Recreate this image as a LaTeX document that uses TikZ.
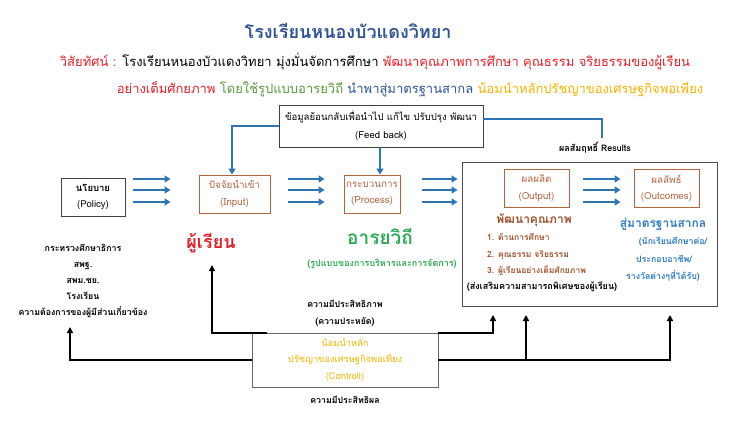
\documentclass[tikz,border=0pt]{standalone}
\usepackage{fontspec}
\setmainfont[Script=Thai]{Loma}
\usetikzlibrary{arrows.meta,calc}
\definecolor{tblue}{HTML}{2F5496}
\definecolor{ared}{HTML}{E3202A}
\definecolor{ogreen}{HTML}{5B9A3C}
\definecolor{gold}{HTML}{F5B400}
\definecolor{ablue}{HTML}{2E75B6}
\definecolor{brn}{HTML}{B4643C}
\definecolor{dbrn}{HTML}{A0522D}
\definecolor{bgreen}{HTML}{2DAA55}
\definecolor{sblue}{HTML}{2E7BC4}
\tikzset{
  bbox/.style={draw=brn, line width=0.9pt, text=brn, align=center, inner sep=0pt, minimum height=38pt, font=\fontsize{9.8}{16.5}\selectfont},
  kbox/.style={draw=black!75, line width=0.9pt, align=center, inner sep=0pt},
  barrow/.style={draw=ablue, line width=2.2pt, -{Triangle[length=6pt,width=7pt]}},
  bline/.style={draw=ablue, line width=2.2pt},
  karrow/.style={draw=black, line width=1.8pt, -{Triangle[length=6pt,width=6pt]}},
  lbl/.style={inner sep=0pt, align=center},
}
\begin{document}
\begin{tikzpicture}[x=1pt,y=-1pt]
\useasboundingbox (0,0) rectangle (750,425);
\fill[white] (0,0) rectangle (750,425);
% title
\node[lbl, text=tblue, font=\fontsize{18}{20}\selectfont\bfseries] (title) at (348,31) {โรงเรียนหนองบัวแดงวิทยา};
\node[lbl, font=\fontsize{13}{15}\selectfont] (vis1) at (375,62) {\textcolor{ared}{วิสัยทัศน์ :} โรงเรียนหนองบัวแดงวิทยา มุ่งมั่นจัดการศึกษา \textcolor{ared}{พัฒนาคุณภาพการศึกษา คุณธรรม จริยธรรมของผู้เรียน}};
\node[lbl, font=\fontsize{13}{15}\selectfont] (vis2) at (410,89) {\textcolor{ared}{อย่างเต็มศักยภาพ} \textcolor{ogreen}{โดยใช้รูปแบบอารยวิถี} \textcolor{tblue}{นำพาสู่มาตรฐานสากล} \textcolor{gold}{น้อมนำหลักปรัชญาของเศรษฐกิจพอเพียง}};
% boxes
\node[kbox, minimum width=204pt, minimum height=42pt, font=\fontsize{9.6}{18}\selectfont] (fb) at (381,126) {ข้อมูลย้อนกลับเพื่อนำไป แก้ไข ปรับปรุง พัฒนา\\(Feed back)};
\node[kbox, minimum width=64pt, minimum height=38pt, font=\fontsize{9.5}{16.5}\selectfont\bfseries] (pol) at (93,197) {นโยบาย\\{\mdseries(Policy)}};
\node[bbox, minimum width=71pt] (inp) at (234.5,194) {ปัจจัยนำเข้า\\(Input)};
\node[bbox, minimum width=56pt] (proc) at (372,194) {กระบวนการ\\(Process)};
\node[kbox, draw=black!70, minimum width=255pt, minimum height=144pt] (res) at (589.5,234) {};
\node[bbox, minimum width=65pt] (outp) at (536.5,188) {ผลผลิต\\(Output)};
\node[bbox, minimum width=65pt] (outc) at (666.5,188) {ผลลัพธ์\\(Outcomes)};
\node[kbox, draw=black!60, line width=0.6pt, minimum width=186pt, minimum height=54pt, text=gold, font=\fontsize{9.3}{16.5}\selectfont] (ctl) at (345,360) {น้อมนำหลัก\\ปรัชญาของเศรษฐกิจพอเพียง\\(Controll)};
% labels
\node[lbl, font=\fontsize{9}{10}\selectfont\bfseries] (reslbl) at (595,148) {ผลสัมฤทธิ์ Results};
\node[lbl, text=ared, font=\fontsize{18}{22}\selectfont\bfseries] (lrn) at (211,243) {ผู้เรียน};
\node[lbl, font=\fontsize{8.8}{16.2}\selectfont\bfseries] (stake) at (83,281) {กระทรวงศึกษาธิการ\\สพฐ.\\สพม.ชย.\\โรงเรียน\\ความต้องการของผู้มีส่วนเกี่ยวข้อง};
\node[lbl, text=bgreen, font=\fontsize{19}{22}\selectfont\bfseries] (ary) at (380,237) {อารยวิถี};
\node[lbl, text=bgreen, font=\fontsize{9}{10}\selectfont\bfseries] (arysub) at (382,264) {(รูปแบบของการบริหารและการจัดการ)};
\node[lbl, text=dbrn, font=\fontsize{12}{15}\selectfont\bfseries] (qual) at (534,220) {พัฒนาคุณภาพ};
\node[lbl, text=dbrn, align=left, anchor=west, font=\fontsize{8.5}{16.5}\selectfont\bfseries] (qlist) at (487,254.5) {1. ด้านการศึกษา\\2. คุณธรรม จริยธรรม\\3. ผู้เรียนอย่างเต็มศักยภาพ};
\node[lbl, font=\fontsize{9}{10}\selectfont\bfseries] (prom) at (542,287) {(ส่งเสริมความสามารถพิเศษของผู้เรียน)};
\node[lbl, text=sblue, font=\fontsize{12}{15}\selectfont\bfseries] (intl) at (663,224) {สู่มาตรฐานสากล};
\node[lbl, text=sblue, font=\fontsize{8.8}{10}\selectfont\bfseries] (in1) at (673,242) {(นักเรียนศึกษาต่อ/};
\node[lbl, text=sblue, font=\fontsize{8.8}{10}\selectfont\bfseries] (in2) at (664,259) {ประกอบอาชีพ/};
\node[lbl, text=sblue, font=\fontsize{8.8}{10}\selectfont\bfseries] (in3) at (663,276) {รางวัลต่างๆที่ได้รับ)};
\node[lbl, font=\fontsize{8.8}{17}\selectfont\bfseries] (eff) at (345,313.5) {ความมีประสิทธิภาพ\\(ความประหยัด)};
\node[lbl, font=\fontsize{8.8}{10}\selectfont\bfseries] (effe) at (345,400) {ความมีประสิทธิผล};
% coordinates
\coordinate (rend) at (602,138);
\coordinate (tl) at (212,265);
\coordinate (ts) at (70,327);
\coordinate (o1) at (493,315);
\coordinate (o2) at (526,315);
\coordinate (o3) at (670,315);
% blue triple arrows
\foreach \yy in {179,190,202}{
  \draw[barrow] ($(pol.east|-0,\yy)+(8,0)$) -- ($(inp.west|-0,\yy)+(-28,0)$);
  \draw[barrow] ($(inp.east|-0,\yy)+(18,0)$) -- ($(proc.west|-0,\yy)+(-19,0)$);
  \draw[barrow] ($(proc.east|-0,\yy)+(22,0)$) -- ($(res.west|-0,\yy)+(-4,0)$);
  \draw[barrow] ($(outp.east|-0,\yy)+(14,0)$) -- ($(outc.west|-0,\yy)+(-13,0)$);
}
% feedback
\draw[barrow] (fb.west) -| ([xshift=-2.5pt]inp.north);
\draw[bline] ([yshift=7pt]fb.east) -| (rend);
\draw[barrow] ([xshift=-1pt]fb.south) -- ([xshift=-1pt]fb.south |- proc.north);
% black connectors
\draw[karrow] ([xshift=15pt]ctl.north west) -| (tl);
\draw[karrow] (ctl.north east) -| (o1);
\draw[karrow] (ctl.west) -| (ts);
\draw[karrow] (ctl.east) -| (o3);
\draw[karrow] (ctl.east -| o2) -- (o2);
\end{tikzpicture}
\end{document}
